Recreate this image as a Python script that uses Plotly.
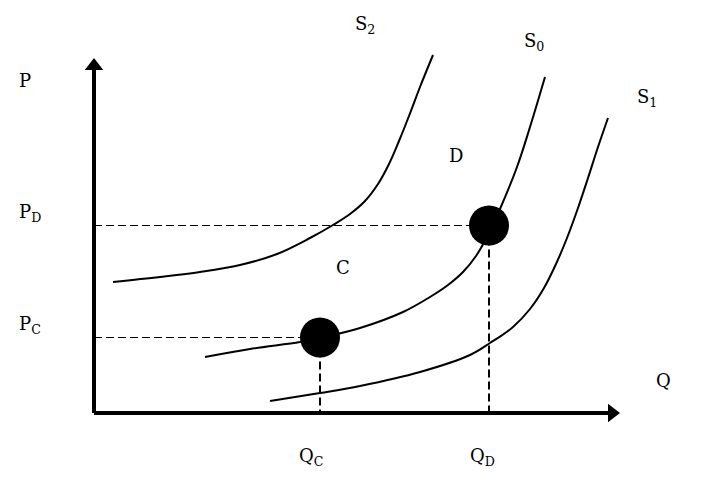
import plotly.graph_objects as go

# Supply curves (Q, P) in chart units, origin at the axes corner
s2_q = [19, 66, 106, 146, 183, 216, 239, 256, 271, 284, 295, 305, 315, 326, 339]
s2_p = [131, 136, 141, 148, 159, 175, 188, 199, 212, 229, 249, 272, 297, 326, 358]

s0_q = [111, 156, 206, 226, 266, 309, 336, 354, 369, 382, 394, 406, 423, 436, 451]
s0_p = [56, 64, 71, 75, 85, 101, 116, 128, 141, 157, 178, 204, 246, 286, 336]

s1_q = [176, 226, 266, 326, 376, 396, 419, 436, 450, 462, 473, 484, 494, 504, 514]
s1_p = [12, 20, 27, 41, 58, 70, 86, 104, 125, 149, 175, 205, 235, 266, 295]

# Equilibrium points
point_names = ["C", "D"]
point_q = [226, 395]
point_p = [75.5, 187.5]

# Axis extents
q_max = 526
p_max = 355

FONT = "DejaVu Serif"

fig = go.Figure()

line_style = dict(color="black", width=2, shape="spline", smoothing=1)
for qs, ps in [(s2_q, s2_p), (s0_q, s0_p), (s1_q, s1_p)]:
    fig.add_trace(go.Scatter(x=qs, y=ps, mode="lines", line=line_style,
                             hoverinfo="skip"))

# Dashed guide lines
for q, p in zip(point_q, point_p):
    fig.add_trace(go.Scatter(x=[0, q], y=[p, p], mode="lines",
                             line=dict(color="black", width=1, dash="8px,4px"),
                             hoverinfo="skip"))
    fig.add_trace(go.Scatter(x=[q, q], y=[p, 0], mode="lines",
                             line=dict(color="black", width=2, dash="8px,4px"),
                             hoverinfo="skip"))

# Axes with arrowheads
fig.add_trace(go.Scatter(x=[0, 0], y=[0, p_max - 10], mode="lines",
                         line=dict(color="black", width=4), hoverinfo="skip"))
fig.add_trace(go.Scatter(x=[0, q_max - 10], y=[0, 0], mode="lines",
                         line=dict(color="black", width=4), hoverinfo="skip"))
fig.add_trace(go.Scatter(x=[0], y=[p_max - 8], mode="markers",
                         marker=dict(symbol="triangle-up", size=16, color="black"),
                         hoverinfo="skip"))
fig.add_trace(go.Scatter(x=[q_max - 8], y=[0], mode="markers",
                         marker=dict(symbol="triangle-right", size=16, color="black"),
                         hoverinfo="skip"))

# Equilibrium dots
fig.add_trace(go.Scatter(x=point_q, y=point_p, mode="markers",
                         marker=dict(size=40, color="black"), hoverinfo="skip"))

labels = [
    ("P", -77, 333, "left"),
    ("P<sub>D</sub>", -77, 200, "left"),
    ("P<sub>C</sub>", -77, 88, "left"),
    ("S<sub>2</sub>", 271, 388, "center"),
    ("S<sub>0</sub>", 440, 371, "center"),
    ("S<sub>1</sub>", 553, 315, "center"),
    ("D", 362, 258, "center"),
    ("C", 249, 146, "center"),
    ("Q", 569, 33, "center"),
    ("Q<sub>C</sub>", 217, -44, "center"),
    ("Q<sub>D</sub>", 388, -44, "center"),
]
for text, x, y, anchor in labels:
    fig.add_annotation(x=x, y=y, text=text, showarrow=False, xanchor=anchor,
                       yanchor="middle", font=dict(family=FONT, size=18, color="black"))

fig.update_layout(
    width=714, height=489,
    margin=dict(l=0, r=0, t=0, b=0),
    paper_bgcolor="white", plot_bgcolor="white",
    showlegend=False,
    xaxis=dict(range=[-94, 620], visible=False, fixedrange=True),
    yaxis=dict(range=[-76, 413], visible=False, fixedrange=True),
)

fig.write_html("out.html", config={"displayModeBar": False},
               post_script="document.body.style.margin='0';document.body.style.overflow='hidden';")
